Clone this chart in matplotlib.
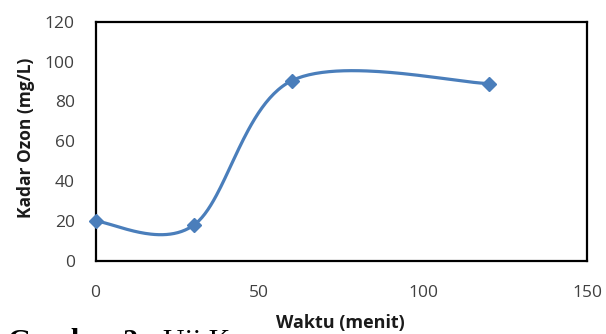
import numpy as np
import matplotlib
matplotlib.use("Agg")
import matplotlib.pyplot as plt

# Data
waktu = [0, 30, 60, 120]
kadar_ozon = [20, 18, 90.5, 89]
x_ticks = [0, 50, 100, 150]
y_ticks = [0, 20, 40, 60, 80, 100, 120]
x_label = "Waktu (menit)"
y_label = "Kadar Ozon (mg/L)"
caption_bold = "Gambar 2."
caption_rest = "Uji K"


def smooth_curve(xs, ys, n=60):
    """Excel-like smoothed line (Catmull-Rom Bezier)."""
    P = np.column_stack([xs, ys]).astype(float)
    m = len(P)
    out = []
    for i in range(m - 1):
        p0 = P[i]
        p3 = P[i + 1]
        prev = P[i - 1] if i > 0 else P[i]
        nxt = P[i + 2] if i + 2 < m else P[i + 1]
        c1 = p0 + (p3 - prev) / 6.0
        c2 = p3 - (nxt - p0) / 6.0
        t = np.linspace(0, 1, n)[:, None]
        seg = ((1 - t) ** 3) * p0 + 3 * ((1 - t) ** 2) * t * c1 + 3 * (1 - t) * t ** 2 * c2 + t ** 3 * p3
        out.append(seg if i == 0 else seg[1:])
    s = np.vstack(out)
    return s[:, 0], s[:, 1]


W, H = 606, 334
fig = plt.figure(figsize=(W / 100, H / 100), dpi=100)
fig.patch.set_facecolor("white")
ax = fig.add_axes([95.5 / W, 1 - 261 / H, (587 - 95.5) / W, (261 - 21.7) / H])

sx, sy = smooth_curve(waktu, kadar_ozon)
col = "#4a7ebb"
ax.plot(sx, sy, color=col, lw=2.3, solid_capstyle="round", zorder=3)
ax.plot(waktu, kadar_ozon, linestyle="none", marker="D", markersize=7.5,
        color=col, markeredgecolor=col, zorder=4, clip_on=False)

ax.set_xlim(0, 150)
ax.set_ylim(0, 120)
ax.set_xticks(x_ticks)
ax.set_yticks(y_ticks)
for s in ax.spines.values():
    s.set_color("black")
    s.set_linewidth(1.6)
ax.tick_params(axis="both", length=0, labelsize=12.5, labelcolor="#404040")
ax.tick_params(axis="y", pad=15)
ax.tick_params(axis="x", pad=17)
for lbl in ax.get_xticklabels() + ax.get_yticklabels():
    lbl.set_family("Open Sans")

fig.text(26 / W, 1 - 138 / H, y_label, rotation=90, ha="center", va="center",
         fontsize=12.5, fontweight="bold", family="Open Sans", color="#1a1a1a")

# caption (cut off by the bottom edge of the figure, as in the reference)
fig.text(8 / W, -15 / H, caption_bold, ha="left", va="baseline",
         fontsize=21.5, fontweight="bold", family="Liberation Serif", color="black")
fig.text(163 / W, -15 / H, caption_rest, ha="left", va="baseline",
         fontsize=21.5, family="Liberation Serif", color="black")

fig.text(340 / W, 1 - 323 / H, x_label, ha="center", va="center",
         fontsize=13, fontweight="bold", family="Open Sans", color="#1a1a1a")

fig.savefig("out.png", dpi=100)
